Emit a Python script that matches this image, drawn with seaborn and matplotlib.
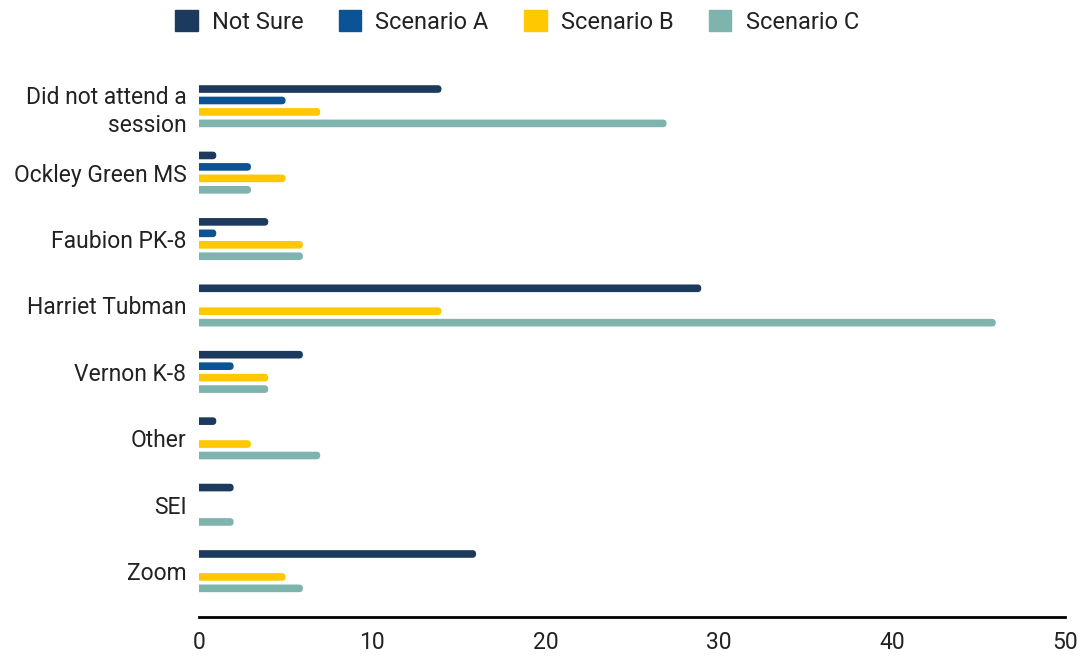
import matplotlib
matplotlib.use("Agg")
import matplotlib.pyplot as plt
import seaborn as sns
import pandas as pd
from matplotlib.patches import Patch, FancyBboxPatch

categories = ["Did not attend a\nsession", "Ockley Green MS", "Faubion PK-8", "Harriet Tubman",
              "Vernon K-8", "Other", "SEI", "Zoom"]
series_names = ["Not Sure", "Scenario A", "Scenario B", "Scenario C"]
not_sure   = [14, 1, 4, 29, 6, 1, 2, 16]
scenario_a = [5, 3, 1, 0, 2, 0, 0, 0]
scenario_b = [7, 5, 6, 14, 4, 3, 0, 5]
scenario_c = [27, 3, 6, 46, 4, 7, 2, 6]
colors = ["#1c3a5e", "#0b5394", "#ffc800", "#7fb3ad"]
x_ticks = [0, 10, 20, 30, 40, 50]

rows = []
for name, vals in zip(series_names, [not_sure, scenario_a, scenario_b, scenario_c]):
    for c, v in zip(categories, vals):
        rows.append({"category": c, "series": name, "value": v})
df = pd.DataFrame(rows)

sns.set_style("white")
plt.rcParams["font.family"] = ["Roboto", "DejaVu Sans"]

fig = plt.figure(figsize=(10.85, 6.56), dpi=100)
ax = fig.add_axes([199/1085, 1-617/656, (1065-199)/1085, (617-73)/656])

sns.barplot(data=df, y="category", x="value", hue="series", orient="h",
            palette=colors, hue_order=series_names, order=categories,
            width=0.69, ax=ax, legend=False, saturation=1)

ax.set_xlim(0, 50)
ax.set_ylim(7.69, -0.5)

# replace bars with thin, round-ended bars
newh = 0.115
ext = 0.3
patches = list(ax.patches)
for p in patches:
    w = p.get_width()
    h = p.get_height()
    cy = p.get_y() + h / 2
    fc = p.get_facecolor()
    p.remove()
    if w <= 0:
        continue
    fb = FancyBboxPatch((-ext, cy - newh / 2), w + ext, newh,
                        boxstyle="round,pad=0,rounding_size=0.22",
                        mutation_aspect=0.26, facecolor=fc, edgecolor="none",
                        clip_on=True)
    ax.add_patch(fb)
    fb.set_clip_path(ax.patch)

ax.set_xticks(x_ticks)
ax.set_xticklabels([str(t) for t in x_ticks], fontsize=16.5, color="#222222")
ax.set_yticks(range(len(categories)))
ax.set_yticklabels(categories, fontsize=16.5, color="#222222", ha="right",
                   linespacing=1.3)
ax.set_xlabel("")
ax.set_ylabel("")
ax.tick_params(axis="both", length=0)
ax.tick_params(axis="x", pad=10)
ax.tick_params(axis="y", pad=9)
for s in ["top", "right", "left"]:
    ax.spines[s].set_visible(False)
ax.spines["bottom"].set_color("black")
ax.spines["bottom"].set_linewidth(2)
ax.grid(False)

handles = [Patch(facecolor=c, edgecolor=c, label=n) for c, n in zip(colors, series_names)]
fig.legend(handles=handles, loc="center", bbox_to_anchor=(517/1085, 1-22/656), ncol=4,
           frameon=False, fontsize=17, handlelength=0.95, handleheight=0.95,
           columnspacing=1.5, handletextpad=0.6, labelcolor="#222222")

fig.savefig("out.png", dpi=100)
